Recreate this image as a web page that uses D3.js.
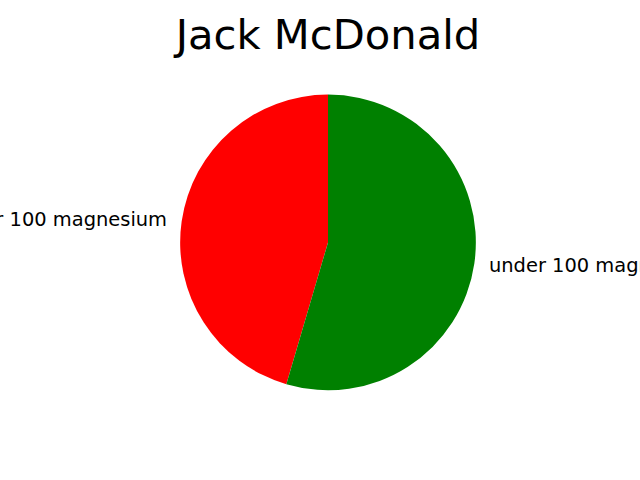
<!DOCTYPE html>
<html><head><meta charset="utf-8">
<script src="https://cdn.jsdelivr.net/npm/d3@7"></script>
<style>body{margin:0;background:#fff}svg{display:block}</style>
</head><body>
<svg id="c" width="640" height="480"></svg>
<script>
const title = "Jack McDonald";
const labels = ["over 100 magnesium", "under 100 magnesium"];
const values = [5, 6];
const colors = ["#ff0000", "#008000"];

const W = 640, H = 480;
const svg = d3.select("#c");
svg.append("rect").attr("width", W).attr("height", H).attr("fill", "#fff");

// axes box like matplotlib defaults
const axL = 0.125 * W, axR = 0.9 * W, axT = H - 0.88 * H, axB = H - 0.11 * H;
const cx = (axL + axR) / 2, cy = (axT + axB) / 2;
const r = (axB - axT) / 2.5;

const pie = d3.pie().sort(null).startAngle(0).endAngle(-2 * Math.PI);
const arcs = pie(values);
const arc = d3.arc().innerRadius(0).outerRadius(r);

const g = svg.append("g").attr("transform", `translate(${cx},${cy})`);
g.selectAll("path").data(arcs).join("path")
  .attr("d", arc)
  .attr("fill", (d, i) => colors[i]);

g.selectAll("text").data(arcs).join("text")
  .each(function(d, i) {
    const a = (d.startAngle + d.endAngle) / 2;
    const x = 1.1 * r * Math.sin(a), y = -1.1 * r * Math.cos(a);
    d3.select(this)
      .attr("x", x).attr("y", y)
      .attr("dy", "0.35em")
      .attr("text-anchor", x < 0 ? "end" : "start")
      .text(labels[i]);
  })
  .attr("font-family", "DejaVu Sans")
  .attr("font-size", 19.44)
  .attr("fill", "#000");

svg.append("text")
  .attr("x", cx).attr("y", axT - 8.3)
  .attr("text-anchor", "middle")
  .attr("font-family", "DejaVu Sans")
  .attr("font-size", 41.7)
  .attr("fill", "#000")
  .text(title);
</script>
</body></html>
